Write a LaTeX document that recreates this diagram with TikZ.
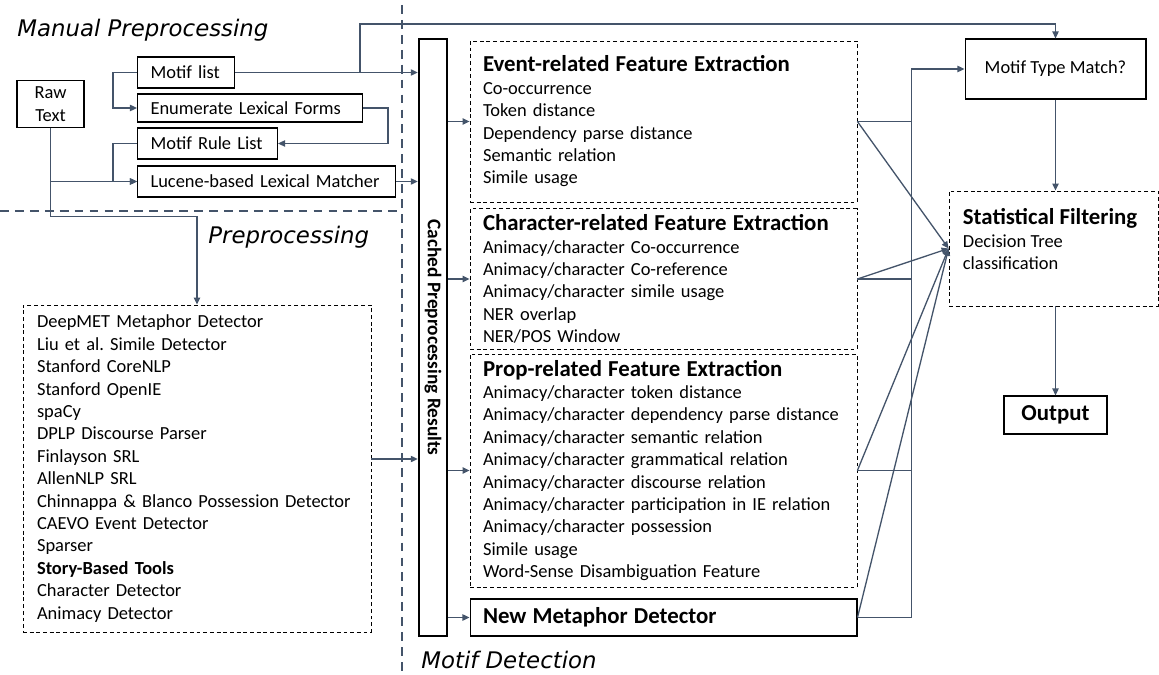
\documentclass[tikz,border=0pt]{standalone}
\usepackage{fontspec}
\usepackage{graphicx}
\setmainfont{Carlito}
\newfontfamily\headfont{DejaVu Sans}
\usetikzlibrary{arrows.meta, positioning}
\definecolor{linkblue}{RGB}{68,84,106}
\newcommand{\titlesize}{\fontsize{13}{15}\selectfont\bfseries}

\begin{document}
\begin{tikzpicture}[x=0.02cm, y=-0.02cm,
    every node/.style={font=\fontsize{10.5}{12.75}\selectfont},
    conn/.style={draw=linkblue, line width=0.75pt, -{Triangle[length=4pt, width=3.6pt]}},
    link/.style={draw=linkblue, line width=0.75pt},
    sep/.style={draw=linkblue, line width=1.1pt, dash pattern=on 5pt off 3.5pt},
    tbox/.style={draw, rectangle, line width=0.6pt, anchor=west, minimum height=0.62cm, inner xsep=0.26cm, inner ysep=0pt, align=left},
    cbox/.style={draw, rectangle, line width=0.6pt, align=center},
    featbox/.style={draw, rectangle, line width=0.5pt, dash pattern=on 2.2pt off 1.6pt, minimum width=7.74cm, inner xsep=0.26cm, text width=7.22cm, align=left},
    heading/.style={anchor=west, inner sep=0pt, font=\headfont\itshape\fontsize{13}{15}\selectfont}]

    \useasboundingbox (0,0) rectangle (1159,675);

    \draw[sep] (402,5) -- (402,675);
    \draw[sep] (0,211) -- (402,211);

    \node[heading] (manual) at (17,30) {Manual Preprocessing};
    \node[heading] (prep) at (208,237) {Preprocessing};
    \node[heading] (detect) at (421,660) {Motif Detection};

    \node[cbox, minimum width=1.34cm, minimum height=0.88cm] (raw) at (50.5,104) {Raw\\Text};
    \node[tbox, text width=1.42cm] (motif) at (137,72.5) {Motif list};
    \node[tbox, text width=3.98cm, minimum height=0.56cm] (enum) at (137,108) {Enumerate Lexical Forms};
    \node[tbox, text width=2.28cm] (rule) at (137,143.5) {Motif Rule List};
    \node[tbox, text width=4.64cm] (lucene) at (137,181.5) {Lucene-based Lexical Matcher};

    \node[draw, rectangle, line width=0.5pt, dash pattern=on 2.2pt off 1.6pt, minimum width=6.96cm, minimum height=6.54cm,
        inner xsep=0.28cm, text width=6.4cm, align=left] (tools) at (197,468.5)
    {DeepMET Metaphor Detector\\ Liu et al.\ Simile Detector\\ Stanford CoreNLP\\ Stanford OpenIE\\ spaCy\\
     DPLP Discourse Parser\\ Finlayson SRL\\ AllenNLP SRL\\ Chinnappa \& Blanco Possession Detector\\
     CAEVO Event Detector\\ Sparser\\ \textbf{Story-Based Tools}\\ Character Detector\\ Animacy Detector};

    \node[draw, rectangle, line width=1.4pt, minimum width=0.56cm, minimum height=11.94cm, inner sep=0pt] (cached) at (433,337.5)
    {\rotatebox{-90}{\fontsize{11}{12}\selectfont\bfseries Cached Preprocessing Results}};

    \node[featbox, minimum height=3.22cm] (event) at (663.5,121.5)
    {{\titlesize Event-related Feature Extraction}\\ Co-occurrence\\ Token distance\\ Dependency parse distance\\
     Semantic relation\\ Simile usage};
    \node[featbox, minimum height=2.68cm] (charfeat) at (663.5,279)
    {{\titlesize Character-related Feature Extraction}\\ Animacy/character Co-occurrence\\ Animacy/character Co-reference\\
     Animacy/character simile usage\\ NER overlap\\ NER/POS Window};
    \node[featbox, minimum height=4.66cm] (propfeat) at (663.5,470.5)
    {{\titlesize Prop-related Feature Extraction}\\ Animacy/character token distance\\
     Animacy/character dependency parse distance\\ Animacy/character semantic relation\\
     Animacy/character grammatical relation\\ Animacy/character discourse relation\\
     Animacy/character participation in IE relation\\ Animacy/character possession\\ Simile usage\\
     Word-Sense Disambiguation Feature};
    \node[draw, rectangle, line width=0.6pt, minimum width=7.74cm, minimum height=0.74cm, inner xsep=0.26cm,
        text width=7.22cm, align=left] (newmeta) at (663.5,617.5) {\titlesize New Metaphor Detector};

    \node[cbox, minimum width=3.62cm, minimum height=1.2cm] (match) at (1055.5,69) {Motif Type Match?};
    \node[draw, rectangle, line width=0.5pt, dash pattern=on 2.2pt off 1.6pt, minimum width=4.18cm, minimum height=2.3cm] (stat) at (1053.5,248.5) {};
    \node[anchor=north west, inner sep=0pt, align=left] (stattext) at ([xshift=0.28cm, yshift=-0.36cm]stat.north west)
    {{\titlesize Statistical Filtering}\\ Decision Tree\\ classification};
    \node[cbox, minimum width=2.06cm, minimum height=0.76cm, font=\titlesize] (out) at (1055.5,415) {Output};

    \draw[conn] (motif.west) -- ++(-24,0) |- (enum.west);
    \draw[conn] (enum.east) -- ++(25,0) |- (rule.east);
    \draw[conn] (rule.west) -- ++(-24,0) |- (lucene.west);
    \draw[conn] (raw.south) |- (lucene.west);
    \draw[conn] (raw.south) -- ++(0,89) -| (tools.north);

    \coordinate (split) at (360,72.5);
    \draw[conn] (motif.east) -- (motif.east -| cached.west);
    \draw[conn] (split) -- ++(0,-48.5) -| (match.north);
    \draw[conn] (lucene.east) -- (lucene.east -| cached.west);
    \draw[conn] ([yshift=0.19cm]tools.east) -- ([yshift=0.19cm]tools.east -| cached.west);

    \draw[conn] (cached.east |- event.west) -- (event.west);
    \draw[conn] (cached.east |- charfeat.west) -- (charfeat.west);
    \draw[conn] (cached.east |- propfeat.west) -- (propfeat.west);
    \draw[conn] (cached.east |- newmeta.west) -- (newmeta.west);

    \draw[link] (event.east) -- ++(54,0);
    \draw[link] (charfeat.east) -- ++(54,0);
    \draw[link] (propfeat.east) -- ++(54,0);
    \draw[conn] (newmeta.east) -- ++(54,0) |- (match.west);

    \draw[conn] (event.east) -- (stat.west);
    \draw[conn] (charfeat.east) -- (stat.west);
    \draw[conn] (propfeat.east) -- (stat.west);
    \draw[conn] (newmeta.east) -- (stat.west);

    \draw[conn] (match.south) -- (match.south |- stat.north);
    \draw[conn] (out.north |- stat.south) -- (out.north);

\end{tikzpicture}
\end{document}
